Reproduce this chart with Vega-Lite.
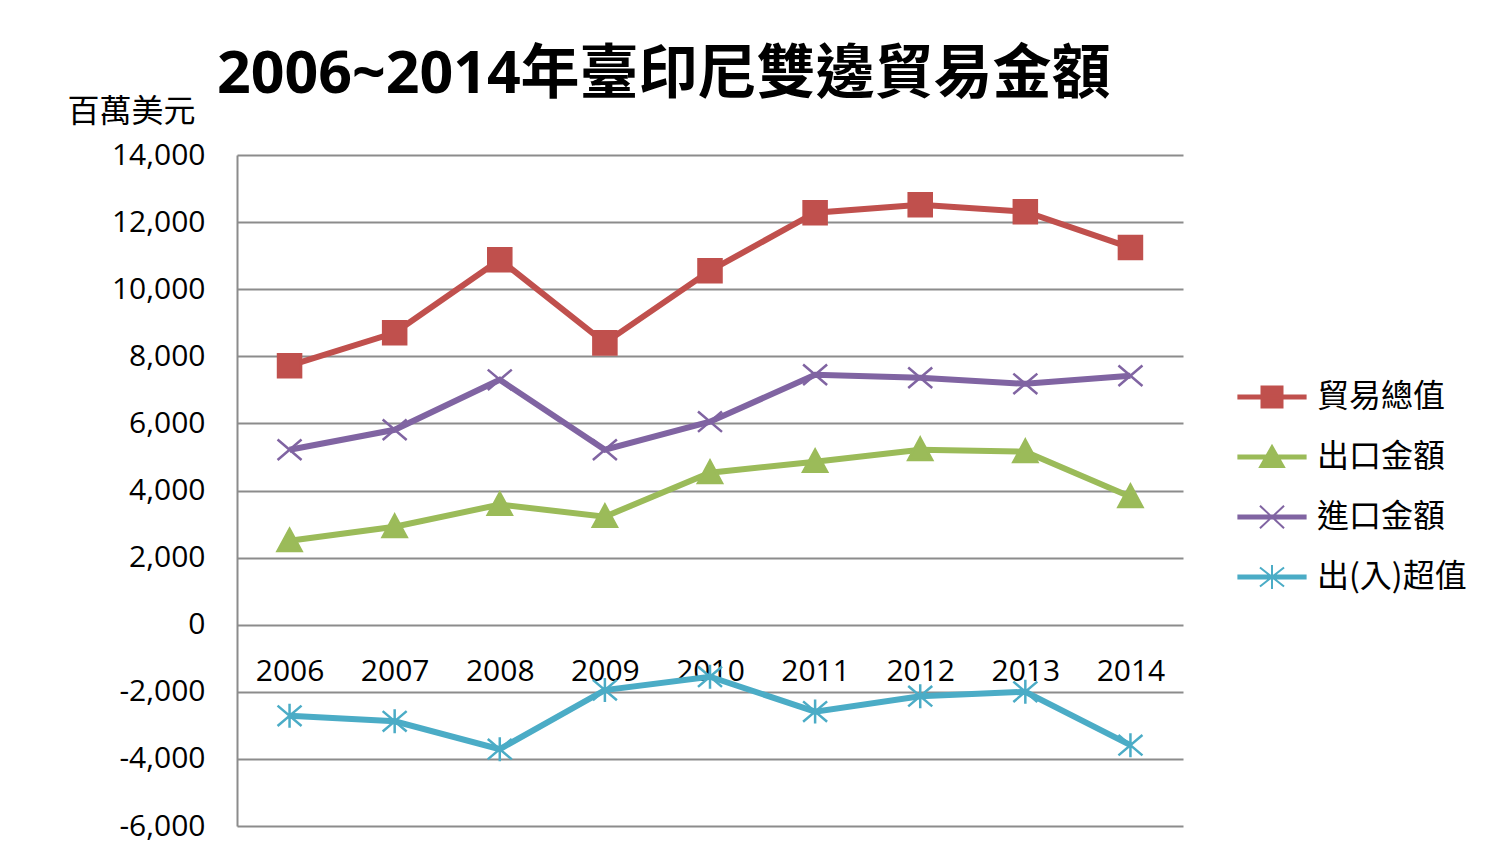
{
  "$schema": "https://vega.github.io/schema/vega-lite/v6.json",
  "width": 946,
  "height": 671,
  "autosize": "none",
  "padding": {"left": 237, "top": 155, "right": 310, "bottom": 33},
  "background": "white",
  "title": {
    "text": "2006~2014年臺印尼雙邊貿易金額",
    "font": "Open Sans, Noto Sans CJK TC",
    "fontSize": 59,
    "fontWeight": "bold",
    "color": "black",
    "anchor": "start",
    "frame": "group",
    "dx": -20,
    "dy": 59,
    "baseline": "alphabetic",
    "offset": 2
  },
  "data": {
    "values": [
      {"year": "2006", "series": "貿易總值", "value": 7720},
      {"year": "2007", "series": "貿易總值", "value": 8700},
      {"year": "2008", "series": "貿易總值", "value": 10880},
      {"year": "2009", "series": "貿易總值", "value": 8400},
      {"year": "2010", "series": "貿易總值", "value": 10550},
      {"year": "2011", "series": "貿易總值", "value": 12280},
      {"year": "2012", "series": "貿易總值", "value": 12520},
      {"year": "2013", "series": "貿易總值", "value": 12310},
      {"year": "2014", "series": "貿易總值", "value": 11240},
      {"year": "2006", "series": "出口金額", "value": 2500},
      {"year": "2007", "series": "出口金額", "value": 2920},
      {"year": "2008", "series": "出口金額", "value": 3580},
      {"year": "2009", "series": "出口金額", "value": 3220},
      {"year": "2010", "series": "出口金額", "value": 4530},
      {"year": "2011", "series": "出口金額", "value": 4860},
      {"year": "2012", "series": "出口金額", "value": 5215},
      {"year": "2013", "series": "出口金額", "value": 5155},
      {"year": "2014", "series": "出口金額", "value": 3815},
      {"year": "2006", "series": "進口金額", "value": 5215},
      {"year": "2007", "series": "進口金額", "value": 5810},
      {"year": "2008", "series": "進口金額", "value": 7300},
      {"year": "2009", "series": "進口金額", "value": 5215},
      {"year": "2010", "series": "進口金額", "value": 6050},
      {"year": "2011", "series": "進口金額", "value": 7450},
      {"year": "2012", "series": "進口金額", "value": 7360},
      {"year": "2013", "series": "進口金額", "value": 7180},
      {"year": "2014", "series": "進口金額", "value": 7420},
      {"year": "2006", "series": "出(入)超值", "value": -2715},
      {"year": "2007", "series": "出(入)超值", "value": -2880},
      {"year": "2008", "series": "出(入)超值", "value": -3710},
      {"year": "2009", "series": "出(入)超值", "value": -1950},
      {"year": "2010", "series": "出(入)超值", "value": -1550},
      {"year": "2011", "series": "出(入)超值", "value": -2590},
      {"year": "2012", "series": "出(入)超值", "value": -2130},
      {"year": "2013", "series": "出(入)超值", "value": -2000},
      {"year": "2014", "series": "出(入)超值", "value": -3590}
    ]
  },
  "encoding": {
    "x": {
      "field": "year",
      "type": "ordinal",
      "scale": {"type": "point", "padding": 0.5},
      "axis": {
        "title": null,
        "orient": "bottom",
        "offset": -201,
        "domain": false,
        "ticks": false,
        "tickSize": 0,
        "grid": false,
        "labelAngle": 0,
        "labelFont": "Open Sans",
        "labelFontSize": 30,
        "labelColor": "black",
        "labelPadding": 31
      }
    },
    "y": {
      "field": "value",
      "type": "quantitative",
      "scale": {"domain": [-6000, 14000], "nice": false, "zero": false},
      "axis": {
        "values": [-6000, -4000, -2000, 0, 2000, 4000, 6000, 8000, 10000, 12000, 14000],
        "labelExpr": "replace(format(datum.value, ',.0f'), '\u2212', '-')",
        "title": "百萬美元",
        "titleAngle": 0,
        "titleAlign": "right",
        "titleBaseline": "alphabetic",
        "titleX": -42,
        "titleY": -34,
        "titleFont": "Noto Sans CJK TC",
        "titleFontSize": 32,
        "titleFontWeight": "normal",
        "titleColor": "black",
        "grid": true,
        "gridColor": "#8c8c8c",
        "gridWidth": 2,
        "domain": true,
        "domainColor": "#8c8c8c",
        "domainWidth": 2,
        "ticks": false,
        "tickSize": 0,
        "labelFont": "Open Sans",
        "labelFontSize": 30,
        "labelColor": "black",
        "labelPadding": 32
      }
    }
  },
  "layer": [
    {
      "mark": {"type": "line", "strokeWidth": 6},
      "encoding": {
        "color": {
          "field": "series",
          "type": "nominal",
          "scale": {
            "domain": ["貿易總值", "出口金額", "進口金額", "出(入)超值"],
            "range": ["#C0504D", "#9BBB59", "#8064A2", "#4BACC6"]
          },
          "legend": {
            "orient": "none",
            "legendX": 1006,
            "legendY": 213,
            "title": null,
            "padding": 0,
            "symbolSize": 3136,
            "symbolStrokeWidth": 2,
            "labelFont": "Noto Sans CJK TC",
            "labelFontSize": 32,
            "labelColor": "black",
            "labelOffset": 16,
            "labelLimit": 300,
            "rowPadding": 15,
            "encoding": {
              "symbols": {
                "shape": {"value": {"expr": "datum.value === '貿易總值' ? 'M-1.2,-0.054H1.2V0.054H-1.2Z M-0.375,-0.375H0.375V0.375H-0.375Z' : datum.value === '出口金額' ? 'M-1.2,-0.054H1.2V0.054H-1.2Z M0,-0.4L0.43,0.36H-0.43Z' : datum.value === '進口金額' ? 'M-1.2,-0.054H1.2V0.054H-1.2Z M-0.43,-0.4L0.43,0.4M-0.43,0.4L0.43,-0.4' : 'M-1.2,-0.054H1.2V0.054H-1.2Z M-0.43,-0.34L0.43,0.34M-0.43,0.34L0.43,-0.34M0,-0.43V0.43'"}},
                "fill": {"value": {"expr": "scale('color', datum.value)"}},
                "stroke": {"value": {"expr": "scale('color', datum.value)"}},
                "strokeWidth": {"value": 2},
                "opacity": {"value": 1},
                "fillOpacity": {"value": 1}
              }
            }
          }
        }
      }
    },
    {
      "transform": [{"filter": "datum.series === '貿易總值'"}],
      "mark": {"type": "point", "shape": "M-0.96,-0.96H0.96V0.96H-0.96Z", "filled": true, "opacity": 1, "fill": "#C0504D", "stroke": "#C0504D", "strokeWidth": 2.5, "size": 576}
    },
    {
      "transform": [{"filter": "datum.series === '出口金額'"}],
      "mark": {"type": "point", "shape": "M0,-1L1,0.85H-1Z", "filled": true, "opacity": 1, "fill": "#9BBB59", "stroke": "#9BBB59", "strokeWidth": 2.5, "size": 576}
    },
    {
      "transform": [{"filter": "datum.series === '進口金額'"}],
      "mark": {"type": "point", "shape": "M-1,-0.85L1,0.85M-1,0.85L1,-0.85", "filled": true, "opacity": 1, "fill": "#8064A2", "stroke": "#8064A2", "strokeWidth": 2.5, "size": 576}
    },
    {
      "transform": [{"filter": "datum.series === '出(入)超值'"}],
      "mark": {"type": "point", "shape": "M-1,-0.85L1,0.85M-1,0.85L1,-0.85M0,-1V1", "filled": true, "opacity": 1, "fill": "#4BACC6", "stroke": "#4BACC6", "strokeWidth": 2.5, "size": 576}
    }
  ],
  "config": {
    "view": {"stroke": null},
    "font": "Open Sans"
  }
}
